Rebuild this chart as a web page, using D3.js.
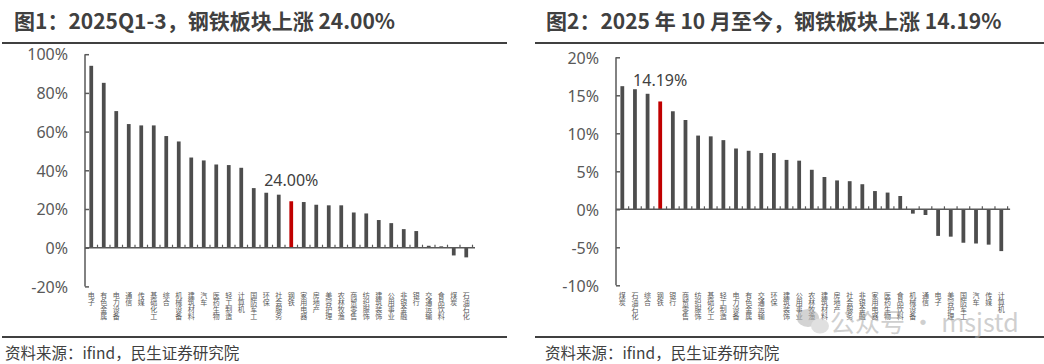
<!DOCTYPE html>
<html>
<head>
<meta charset="utf-8">
<script src="https://cdn.jsdelivr.net/npm/d3@7/dist/d3.min.js"></script>
<style>
  html, body { margin: 0; padding: 0; background: #fff; }
  svg { display: block; }
  .cat { writing-mode: vertical-rl; text-orientation: upright; }
</style>
</head>
<body>
<svg id="chart" width="1044" height="364"></svg>
<script>
// chart data
var leftTitle = "图1：2025Q1-3，钢铁板块上涨 24.00%"
var rightTitle = "图2：2025 年 10 月至今，钢铁板块上涨 14.19%"
var sourceText = "资料来源：ifind，民生证券研究院"

var leftCats = ["电子", "有色金属", "电力设备", "通信", "传媒", "基础化工", "综合", "机械设备", "建筑材料", "汽车",
    "医药生物", "轻工制造", "计算机", "国防军工", "环保", "社会服务", "钢铁", "家用电器", "房地产", "美容护理",
    "农林牧渔", "商贸零售", "纺织服饰", "建筑装饰", "公用事业", "非银金融", "银行", "交通运输", "食品饮料", "煤炭", "石油石化"]
var leftVals = [94.0, 85.2, 70.6, 63.9, 63.2, 63.2, 57.7, 54.9, 46.6, 45.1,
    43.0, 42.7, 41.3, 30.8, 28.4, 27.4, 24.0, 23.6, 22.2, 21.9,
    21.9, 18.2, 17.7, 14.3, 12.7, 9.6, 8.6, 1.0, 0.7, -4.0, -5.0]
var leftTicks = [-20, 0, 20, 40, 60, 80, 100]

var rightCats = ["煤炭", "石油石化", "综合", "钢铁", "银行", "商贸零售", "纺织服饰", "基础化工", "轻工制造", "电力设备",
    "有色金属", "交通运输", "环保", "建筑装饰", "公用事业", "农林牧渔", "建筑材料", "房地产", "社会服务", "非银金融",
    "家用电器", "医药生物", "食品饮料", "机械设备", "通信", "电子", "美容护理", "国防军工", "汽车", "传媒", "计算机"]
var rightVals = [16.2, 15.8, 15.2, 14.19, 12.9, 11.75, 9.7, 9.6, 9.1, 8.0,
    7.7, 7.4, 7.4, 6.5, 6.4, 5.2, 4.25, 3.8, 3.7, 3.3,
    2.4, 2.2, 1.75, -0.57, -0.75, -3.5, -3.6, -4.4, -4.5, -4.65, -5.5]
var rightTicks = [-10, -5, 0, 5, 10, 15, 20]

var highlight = "钢铁"
var barColor = "#4d4d4d", redColor = "#c00000", axisColor = "#595959", textColor = "#404040"
var latin = "'Noto Sans', 'Noto Sans CJK SC', sans-serif"
var cjk = "'Noto Sans CJK SC', 'Noto Sans', sans-serif"

var svg = d3.select("#chart")

function drawPanel(p) {
    var g = svg.append("g")

    // title + underline
    g.append("text")
        .attr("x", p.titleX).attr("y", 29)
        .attr("font-family", cjk).attr("font-weight", "bold")
        .attr("font-size", 21).attr("fill", textColor)
        .text(p.title)
    g.append("line")
        .attr("x1", p.lineX[0]).attr("x2", p.lineX[1])
        .attr("y1", 43).attr("y2", 43)
        .attr("stroke", textColor).attr("stroke-width", 2)

    var x = d3.scaleBand()
        .domain(p.cats)
        .range([p.x0, p.x1])
        .paddingInner(0.7)
        .paddingOuter(0.35)

    var y = d3.scaleLinear()
        .domain(d3.extent(p.ticks))
        .range([p.yBottom, p.yTop])

    // y axis: line, inward ticks, labels
    var yAxis = d3.axisRight(y)
        .tickValues(p.ticks)
        .tickSize(4)
        .tickFormat(function(d) { return d + "%" })
    var ga = g.append("g")
        .attr("transform", "translate(" + p.x0 + ",0)")
        .call(yAxis)
    ga.select(".domain").attr("stroke", axisColor).attr("stroke-width", 1.5)
        .attr("d", "M0," + y.range()[0] + "V" + y.range()[1])
    ga.selectAll(".tick line").attr("stroke", axisColor).attr("stroke-width", 1.5)
    ga.selectAll(".tick text")
        .attr("x", -17).attr("text-anchor", "end").attr("dy", "0.36em")
        .attr("font-family", latin).attr("font-size", 16).attr("fill", axisColor)

    // bars
    g.append("g").selectAll("rect")
        .data(p.cats)
        .enter().append("rect")
        .attr("x", function(d) { return x(d) })
        .attr("width", x.bandwidth())
        .attr("y", function(d, i) { return y(Math.max(0, p.vals[i])) })
        .attr("height", function(d, i) { return Math.abs(y(p.vals[i]) - y(0)) })
        .attr("fill", function(d) { return d === highlight ? redColor : barColor })

    // zero line with small category ticks
    var y0 = y(0)
    g.append("line")
        .attr("x1", p.x0).attr("x2", p.x1 + 2.5)
        .attr("y1", y0).attr("y2", y0)
        .attr("stroke", axisColor).attr("stroke-width", 1.5)
    g.append("g").selectAll("line")
        .data(d3.range(1, p.cats.length + 1))
        .enter().append("line")
        .attr("x1", function(i) { return p.x0 + i * x.step() })
        .attr("x2", function(i) { return p.x0 + i * x.step() })
        .attr("y1", y0 - 3).attr("y2", y0)
        .attr("stroke", axisColor).attr("stroke-width", 1.2)

    // value label over the steel bar
    var hi = p.cats.indexOf(highlight)
    g.append("text")
        .attr("x", x(highlight) + x.bandwidth() / 2)
        .attr("y", y(p.vals[hi]) - 15)
        .attr("text-anchor", "middle")
        .attr("font-family", latin).attr("font-size", 16).attr("fill", textColor)
        .text(p.vals[hi].toFixed(2) + "%")

    // vertical category labels (upright glyphs stacked top to bottom)
    g.append("g").selectAll("text")
        .data(p.cats)
        .enter().append("text")
        .attr("class", "cat")
        .attr("x", function(d) { return x(d) + x.bandwidth() / 2 })
        .attr("y", p.labelTop)
        .attr("font-family", cjk).attr("font-size", 7).attr("fill", axisColor)
        .text(function(d) { return d })

    // footer
    g.append("line")
        .attr("x1", p.lineX[0]).attr("x2", p.lineX[1])
        .attr("y1", 337).attr("y2", 337)
        .attr("stroke", textColor).attr("stroke-width", 2)
    g.append("text")
        .attr("x", p.sourceX).attr("y", 359)
        .attr("font-family", cjk).attr("font-size", 15.5).attr("fill", textColor)
        .text(sourceText)
}

drawPanel({
    title: leftTitle, titleX: 14, lineX: [2, 507],
    cats: leftCats, vals: leftVals, ticks: leftTicks,
    x0: 85, x1: 472.5, yTop: 54.2, yBottom: 286.4,
    labelTop: 292, sourceX: 5
})

drawPanel({
    title: rightTitle, titleX: 546, lineX: [535, 1044],
    cats: rightCats, vals: rightVals, ticks: rightTicks,
    x0: 616, x1: 1007.6, yTop: 57.3, yBottom: 285.3,
    labelTop: 292, sourceX: 545
})

// faint watermark in the lower right
var wm = svg.append("g").attr("opacity", 0.55)
wm.append("ellipse").attr("cx", 808).attr("cy", 318).attr("rx", 11).attr("ry", 9).attr("fill", "#b0b0b0")
wm.append("ellipse").attr("cx", 820).attr("cy", 326).attr("rx", 9).attr("ry", 7.5).attr("fill", "#c8c8c8")
wm.append("text")
    .attr("x", 830).attr("y", 332)
    .attr("font-family", cjk).attr("font-size", 25).attr("fill", "#a8a8a8")
    .text("公众号 · msjstd")
</script>
</body>
</html>
